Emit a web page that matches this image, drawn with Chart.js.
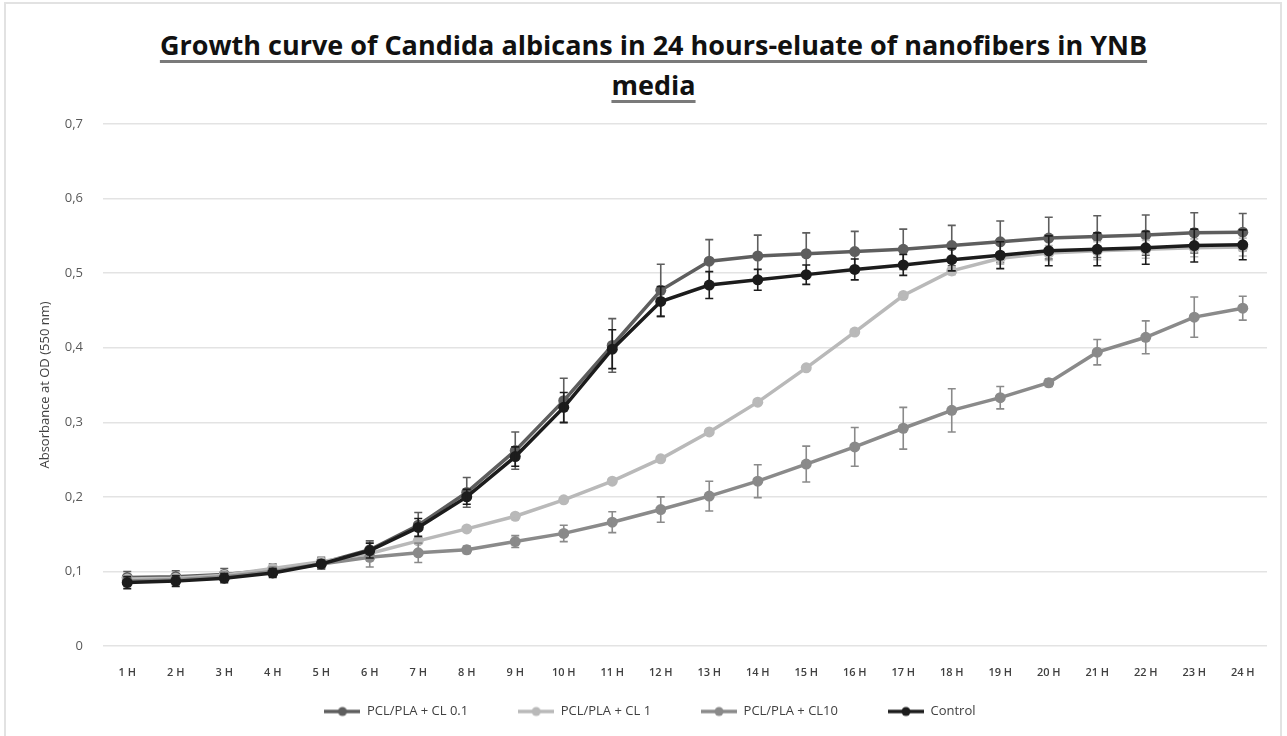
<!DOCTYPE html>
<html>
<head>
<meta charset="utf-8">
<script src="https://cdn.jsdelivr.net/npm/chart.js@4.4.1/dist/chart.umd.min.js"></script>
<style>
  body { margin: 0; background: #fff; }
  #frame { position: absolute; left: 4px; top: 2px; width: 1278px; height: 740px; border: 2px solid #e2e2e2; box-sizing: border-box; }
  #title { position: absolute; left: 10px; top: 25px; width: 1287px; text-align: center;
    font-family: "Open Sans", sans-serif; font-weight: 700; font-size: 27px; line-height: 40px; color: #111;
    text-decoration: underline; text-decoration-thickness: 3px; text-decoration-color: #7a7a7a; text-underline-offset: 5px; }
  #myChart { position: absolute; left: 0; top: 0; }
</style>
</head>
<body>
<div id="frame"></div>
<div id="title">Growth curve of Candida albicans in 24 hours-eluate of nanofibers in YNB<br>media</div>
<canvas id="myChart" width="1287" height="736"></canvas>
<script>
// hours on x axis
const hours = ['1 H','2 H','3 H','4 H','5 H','6 H','7 H','8 H','9 H','10 H','11 H','12 H',
  '13 H','14 H','15 H','16 H','17 H','18 H','19 H','20 H','21 H','22 H','23 H','24 H'];

// mean OD values
const cl01 = [0.092,0.093,0.096,0.102,0.111,0.129,0.162,0.206,0.262,0.329,0.403,0.477,
  0.516,0.523,0.526,0.529,0.532,0.537,0.542,0.547,0.549,0.551,0.554,0.555];
const cl1 = [0.090,0.091,0.095,0.104,0.113,0.124,0.141,0.157,0.174,0.196,0.221,0.251,
  0.287,0.327,0.373,0.421,0.470,0.503,0.520,0.527,0.530,0.532,0.534,0.535];
const cl10 = [0.087,0.089,0.093,0.100,0.110,0.119,0.125,0.129,0.140,0.151,0.166,0.183,
  0.201,0.221,0.244,0.267,0.292,0.316,0.333,0.353,0.394,0.414,0.441,0.453];
const control = [0.085,0.087,0.091,0.098,0.110,0.128,0.159,0.200,0.254,0.320,0.398,0.462,
  0.484,0.491,0.498,0.505,0.511,0.518,0.524,0.530,0.532,0.534,0.537,0.538];

// error bars (+/-)
const cl01Err = [0.008,0.008,0.008,0.008,0.008,0.012,0.017,0.020,0.025,0.030,0.036,0.035,
  0.029,0.028,0.028,0.027,0.027,0.027,0.028,0.028,0.028,0.027,0.027,0.025];
const cl1Err = [0.004,0.004,0.004,0.004,0.004,0.005,0.004,0.003,0.003,0.003,0.003,0.003,
  0.003,0.003,0.003,0.003,0.004,0.005,0.008,0.010,0.012,0.012,0.012,0.012];
const cl10Err = [0.006,0.006,0.006,0.006,0.006,0.013,0.013,0.005,0.008,0.011,0.014,0.017,
  0.020,0.022,0.024,0.026,0.028,0.029,0.015,0.005,0.017,0.022,0.027,0.016];
const ctrlErr = [0.008,0.007,0.006,0.006,0.005,0.010,0.012,0.010,0.013,0.020,0.026,0.020,
  0.018,0.014,0.013,0.014,0.014,0.015,0.018,0.020,0.022,0.022,0.022,0.020];

const yTicks = [0, 0.1, 0.2, 0.3, 0.4, 0.5, 0.6, 0.7];

// legend icon = short line with a dot, like excel
function legendIcon(color) {
  const c = document.createElement('canvas');
  c.width = 36; c.height = 12;
  const g = c.getContext('2d');
  g.strokeStyle = color; g.lineWidth = 3.5;
  g.beginPath(); g.moveTo(0, 6); g.lineTo(36, 6); g.stroke();
  g.fillStyle = color;
  g.beginPath(); g.arc(18, 6, 4.5, 0, Math.PI * 2); g.fill();
  return c;
}

function makeSet(label, values, errs, color, order) {
  return {
    label: label,
    data: values,
    errors: errs,
    borderColor: color,
    backgroundColor: color,
    pointBackgroundColor: color,
    pointBorderWidth: 0,
    pointRadius: 5.5,
    borderWidth: 3.5,
    tension: 0,
    order: order,
    icon: legendIcon(color)
  };
}

// draws the error bars using the chart scales
const errorBars = {
  id: 'errorBars',
  afterDatasetDraw(chart, args) {
    const ds = chart.data.datasets[args.index];
    const meta = args.meta;
    const y = chart.scales.y;
    const ctx = chart.ctx;
    ctx.save();
    ctx.strokeStyle = ds.borderColor;
    ctx.lineWidth = 1.6;
    meta.data.forEach(function (pt, i) {
      const e = ds.errors[i];
      const top = y.getPixelForValue(ds.data[i] + e);
      const bot = y.getPixelForValue(ds.data[i] - e);
      ctx.beginPath();
      ctx.moveTo(pt.x, top); ctx.lineTo(pt.x, bot);
      ctx.moveTo(pt.x - 4, top); ctx.lineTo(pt.x + 4, top);
      ctx.moveTo(pt.x - 4, bot); ctx.lineTo(pt.x + 4, bot);
      ctx.stroke();
    });
    ctx.restore();
  }
};

// legend padding is big (item spacing) so pull the legend up a bit after layout
const legendShift = {
  id: 'legendShift',
  afterLayout(chart) {
    chart.legend.top -= 27;
  }
};

new Chart(document.getElementById('myChart'), {
  type: 'line',
  data: {
    labels: hours,
    datasets: [
      makeSet('PCL/PLA + CL 0.1', cl01, cl01Err, '#5e5e5e', 4),
      makeSet('PCL/PLA + CL 1', cl1, cl1Err, '#b9b9b9', 3),
      makeSet('PCL/PLA + CL10', cl10, cl10Err, '#8a8a8a', 2),
      makeSet('Control', control, ctrlErr, '#1c1c1c', 1)
    ]
  },
  options: {
    responsive: false,
    devicePixelRatio: 1,
    animation: false,
    layout: { padding: { top: 124, left: 33, right: 20, bottom: 0 } },
    scales: {
      x: {
        offset: true,
        grid: { display: false, drawTicks: false },
        border: { display: false },
        ticks: { color: '#404040', font: { family: 'Open Sans', size: 11, weight: '600' }, padding: 20, maxRotation: 0 },
        afterFit: function (axis) { axis.height = 36; }
      },
      y: {
        min: 0,
        max: 0.7,
        afterBuildTicks: function (axis) { axis.ticks = yTicks.map(v => ({ value: v })); },
        grid: { color: '#e3e3e3', lineWidth: 1.5, drawTicks: false },
        border: { display: false },
        ticks: {
          color: '#595959',
          font: { family: 'Open Sans', size: 13 },
          padding: 20,
          callback: v => v === 0 ? '0' : v.toFixed(1).replace('.', ',')
        },
        title: { display: true, text: 'Absorbance at OD (550 nm)', color: '#404040', font: { family: 'Open Sans', size: 13 } },
        afterFit: function (axis) { axis.width = 70; }
      }
    },
    plugins: {
      legend: {
        position: 'bottom',
        maxHeight: 54,
        labels: {
          usePointStyle: true,
          pointStyleWidth: 36,
          padding: 50,
          color: '#404040',
          font: { family: 'Open Sans', size: 13 },
          generateLabels: function (chart) {
            return chart.data.datasets.map((ds, i) => ({
              text: ds.label,
              pointStyle: ds.icon,
              fillStyle: ds.borderColor,
              strokeStyle: ds.borderColor,
              lineWidth: 0,
              fontColor: '#404040',
              datasetIndex: i
            }));
          }
        }
      },
      tooltip: { enabled: false }
    }
  },
  plugins: [errorBars, legendShift]
});
</script>
</body>
</html>
